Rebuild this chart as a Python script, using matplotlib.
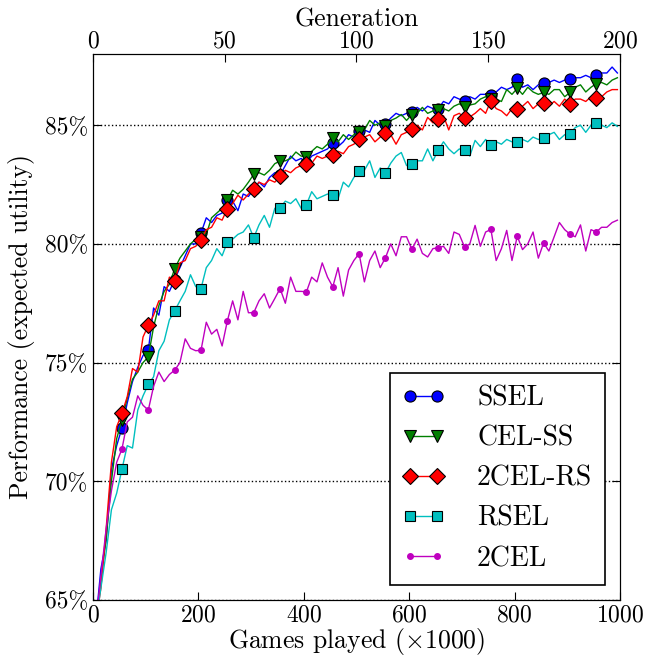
import numpy as np
import matplotlib
matplotlib.use('Agg')
import matplotlib.pyplot as plt
from matplotlib.ticker import FuncFormatter

plt.rcParams['font.family'] = 'serif'
plt.rcParams['font.serif'] = ['cmr10']
plt.rcParams['mathtext.fontset'] = 'cm'
plt.rcParams['axes.formatter.use_mathtext'] = True

# games played (x1000), one point every 10
games = np.arange(5, 1000, 10)

ssel = [64.0, 66.3, 67.5, 70.5, 71.5, 72.25, 73.3, 74.2, 74.8, 75.3,
        75.52, 77.3, 77.0, 78.2, 78.0, 78.5, 79.0, 79.5, 80.0, 80.0,
        80.46, 81.1, 80.9, 81.2, 81.3, 81.84, 81.8, 81.4, 82.1, 82.0,
        82.3, 82.6, 82.4, 82.8, 83.0, 82.9, 83.3, 83.7, 83.5, 83.6,
        83.4, 83.7, 83.8, 83.9, 84.0, 84.25, 84.1, 84.3, 84.6, 84.5,
        84.75, 84.8, 84.7, 85.2, 85.0, 85.06, 85.3, 85.5, 85.4, 85.5,
        85.55, 85.75, 85.6, 85.8, 85.7, 85.69, 86.0, 85.9, 86.2, 86.1,
        86.04, 86.2, 86.1, 86.3, 86.3, 86.28, 86.4, 86.6, 86.5, 86.6,
        86.96, 86.6, 86.7, 86.5, 86.7, 86.77, 86.8, 86.9, 86.8, 86.9,
        86.93, 87.0, 87.0, 87.1, 87.0, 87.13, 87.2, 87.2, 87.45, 87.2]

cel_ss = [64.0, 65.8, 67.6, 70.0, 71.8, 72.58, 73.5, 74.3, 74.6, 75.0,
          75.24, 76.5, 77.4, 78.0, 78.3, 78.96, 79.4, 79.7, 80.0, 80.2,
          80.3, 80.4, 81.1, 81.3, 81.5, 81.84, 82.26, 82.1, 82.3, 82.6,
          82.93, 83.0, 82.9, 83.1, 83.38, 83.49, 83.5, 83.6, 83.87, 83.7,
          83.66, 83.9, 84.1, 84.0, 84.2, 84.45, 84.3, 84.6, 84.4, 84.6,
          84.7, 84.8, 85.2, 85.0, 85.1, 84.95, 85.2, 85.3, 85.45, 85.2,
          85.45, 85.5, 85.75, 85.5, 85.6, 85.62, 85.7, 85.6, 85.8, 85.9,
          85.76, 85.85, 85.9, 86.1, 86.2, 86.1, 86.1, 86.0, 86.5, 86.3,
          86.55, 86.3, 86.6, 86.4, 86.3, 86.38, 86.3, 86.5, 86.5, 86.2,
          86.38, 86.6, 86.7, 86.4, 86.6, 86.75, 86.8, 86.7, 86.9, 87.0]

cel2_rs = [64.0, 65.5, 68.0, 70.8, 72.3, 72.86, 73.56, 74.75, 74.6, 76.08,
           76.57, 77.0, 77.6, 77.6, 78.6, 78.44, 79.2, 79.3, 79.8, 79.9,
           80.18, 80.6, 80.7, 81.1, 81.0, 81.49, 81.7, 82.05, 81.85, 82.1,
           82.3, 82.6, 82.5, 82.7, 82.6, 82.85, 83.1, 83.0, 83.2, 83.3,
           83.38, 83.4, 83.7, 83.6, 83.7, 83.75, 83.9, 83.8, 84.1, 84.2,
           84.42, 84.5, 84.6, 84.3, 84.5, 84.66, 84.6, 84.2, 84.6, 84.7,
           84.86, 85.0, 84.8, 85.33, 85.1, 85.27, 85.4, 84.8, 85.4, 85.5,
           85.31, 85.35, 85.5, 85.7, 85.5, 86.04, 85.7, 85.6, 85.4, 85.7,
           85.69, 85.8, 86.0, 85.7, 85.9, 85.95, 85.8, 86.0, 85.8, 86.1,
           85.9, 86.1, 86.1, 86.0, 86.2, 86.14, 86.2, 86.4, 86.5, 86.5]

rsel = [64.0, 65.5, 67.0, 68.8, 69.5, 70.51, 71.5, 71.4, 73.0, 73.6,
        74.08, 74.4, 75.5, 75.9, 76.8, 77.18, 77.6, 78.0, 78.7, 78.2,
        78.12, 79.0, 79.3, 79.8, 79.5, 80.08, 80.2, 80.4, 80.5, 80.8,
        80.26, 80.8, 81.2, 80.7, 81.5, 81.53, 81.8, 81.7, 81.9, 81.5,
        81.65, 82.2, 81.9, 82.0, 82.1, 82.05, 81.9, 82.6, 82.4, 82.8,
        83.06, 83.1, 83.5, 82.8, 83.2, 82.99, 83.4, 83.7, 83.85, 83.3,
        83.35, 83.5, 83.5, 84.0, 83.5, 83.94, 84.3, 84.0, 83.8, 84.0,
        83.94, 83.7, 84.36, 84.1, 84.4, 84.15, 84.3, 84.2, 84.4, 84.3,
        84.29, 84.4, 84.3, 84.5, 84.4, 84.47, 84.6, 84.7, 84.4, 84.6,
        84.64, 84.9, 85.0, 84.7, 85.0, 85.09, 85.0, 84.9, 85.1, 84.95]

cel2 = [64.0, 66.0, 68.0, 69.6, 70.8, 71.36, 72.5, 72.7, 73.6, 73.2,
        73.0, 74.0, 74.6, 74.2, 74.5, 74.68, 75.0, 76.0, 75.6, 75.5,
        75.52, 76.7, 76.2, 76.4, 75.7, 76.76, 77.6, 76.8, 78.0, 77.1,
        77.1, 77.6, 77.9, 77.3, 77.7, 78.12, 77.5, 78.6, 78.0, 78.0,
        77.98, 78.6, 78.4, 79.2, 78.6, 78.19, 79.0, 77.8, 78.9, 79.3,
        79.59, 78.4, 79.3, 79.7, 79.0, 79.42, 80.0, 79.5, 80.3, 80.3,
        79.77, 80.2, 79.6, 79.45, 79.8, 79.84, 79.9, 79.6, 80.5, 80.4,
        79.87, 80.0, 80.78, 79.9, 80.5, 80.61, 79.3, 79.8, 80.57, 79.3,
        80.32, 79.76, 80.0, 80.5, 79.4, 80.04, 79.7, 80.3, 80.9, 80.6,
        80.41, 80.3, 80.8, 79.7, 80.6, 80.5, 80.7, 80.7, 80.9, 81.0]

labels = ['SSEL', 'CEL-SS', '2CEL-RS', 'RSEL', '2CEL']
yticks = [65, 70, 75, 80, 85]
gen_ticks = [0, 50, 100, 150, 200]

fig = plt.figure(figsize=(6.47, 6.56), dpi=100)
ax = fig.add_axes([0.1437, 0.0854, 0.8146, 0.8323])

mk = (5, 5)
ax.plot(games, ssel, '-', color='b', lw=1.0, marker='o', ms=8,
        mec='k', mew=0.8, markevery=mk, label=labels[0])
ax.plot(games, cel_ss, '-', color='g', lw=1.0, marker='v', ms=8,
        mec='k', mew=0.8, markevery=mk, label=labels[1])
ax.plot(games, cel2_rs, '-', color='r', lw=1.0, marker='D', ms=8,
        mec='k', mew=0.8, markevery=mk, label=labels[2])
ax.plot(games, rsel, '-', color='c', lw=1.0, marker='s', ms=7,
        mec='k', mew=0.8, markevery=mk, label=labels[3])
ax.plot(games, cel2, '-', color='m', lw=1.0, marker='o', ms=4,
        mec='m', markevery=mk, label=labels[4])

ax.set_xlim(0, 1000)
ax.set_ylim(65, 88)
ax.set_yticks(yticks)
ax.yaxis.set_major_formatter(FuncFormatter(lambda v, p: '%d%%' % v))
ax.yaxis.grid(True, linestyle=':', color='k', lw=1.0)
ax.tick_params(direction='in', length=6, labelsize=17, top=False, right=True)
ax.set_xlabel(r'Games played ($\times$1000)', fontsize=18.5, labelpad=-1)
ax.set_ylabel('Performance (expected utility)', fontsize=18.5, labelpad=7)

ax2 = ax.twiny()
ax2.set_xlim(0, 200)
ax2.set_xticks(gen_ticks)
ax2.tick_params(direction='in', length=6, labelsize=17, pad=1)
ax2.set_xlabel('Generation', fontsize=18.5, labelpad=3)

leg = ax.legend(loc='lower right', numpoints=2, fontsize=20, fancybox=False,
                edgecolor='k', framealpha=1, borderpad=0.45, labelspacing=0.5,
                handlelength=1.55, handletextpad=1.15, borderaxespad=0.55)
leg.get_frame().set_linewidth(1.2)

fig.savefig('out.png', dpi=100)
